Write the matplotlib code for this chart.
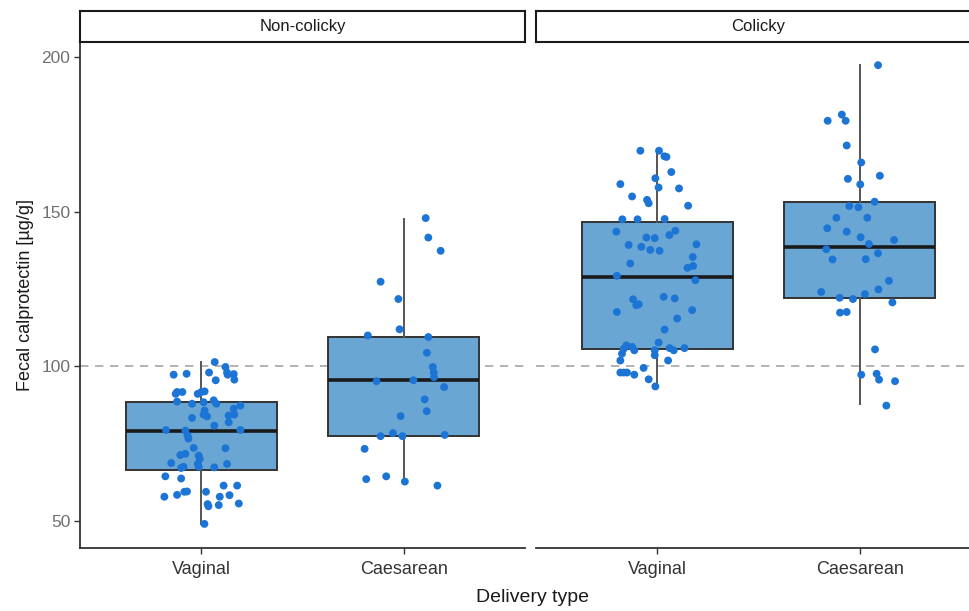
import matplotlib
matplotlib.use("Agg")
import matplotlib.pyplot as plt
import numpy as np

plt.rcParams['font.family'] = ['Liberation Sans', 'DejaVu Sans']

# ---------------- data ----------------
panels = ["Non-colicky", "Colicky"]
categories = ["Vaginal", "Caesarean"]
y_ticks = [50, 100, 150, 200]
reference_line = 100

# box statistics: (whisker low, Q1, median, Q3, whisker high)
box_noncolicky_vaginal = [49.0, 66.6, 79.2, 88.6, 101.4]
box_noncolicky_caesarean = [62.7, 77.6, 95.5, 109.5, 147.7]
box_colicky_vaginal = [93.0, 105.7, 129.0, 146.7, 170.1]
box_colicky_caesarean = [87.9, 122.0, 138.7, 153.1, 197.7]

nc_vag_values = [101.4, 99.8, 97.3, 97.6, 98.0, 98.0, 97.3, 97.5, 95.7, 95.5,
                 91.7, 91.7, 91.1, 91.1, 91.7, 91.9, 88.6, 87.9, 88.4, 89.0,
                 87.9, 87.3, 86.3, 85.7, 84.4, 83.8, 84.1, 84.4, 83.3, 81.9,
                 80.8, 79.4, 79.2, 77.6, 76.6, 79.4, 73.6, 73.5, 71.3, 71.7,
                 71.1, 70.0, 68.7, 68.4, 67.5, 67.5, 67.1, 68.4, 67.3, 64.4,
                 63.7, 61.4, 61.4, 59.5, 59.4, 59.4, 58.4, 57.8, 58.3, 57.8,
                 55.6, 55.4, 54.7, 55.1, 49.0]
nc_vag_jitter = [0.066, 0.119, -0.137, -0.073, 0.038, 0.127, 0.130, 0.160, 0.163, 0.071,
                 -0.120, -0.094, -0.127, -0.018, 0.000, 0.016, -0.120, -0.046, 0.011, 0.061,
                 0.074, 0.193, 0.160, 0.016, 0.011, 0.028, 0.135, 0.163, -0.046, 0.135,
                 0.064, -0.175, -0.079, -0.068, -0.064, 0.193, -0.038, 0.119, -0.104, -0.079,
                 -0.013, -0.008, -0.149, -0.018, -0.013, -0.088, -0.100, 0.127, 0.064, -0.178,
                 -0.100, 0.110, 0.177, -0.071, -0.084, 0.023, -0.120, -0.183, 0.139, 0.091,
                 0.185, 0.031, 0.035, 0.086, 0.015]

nc_cae_values = [148.0, 141.7, 137.4, 127.4, 121.8, 112.0, 110.0, 109.5, 104.4, 99.8,
                 98.0, 96.5, 95.2, 95.5, 93.3, 89.3, 85.5, 83.9, 77.4, 78.4,
                 77.4, 77.8, 73.3, 63.5, 64.4, 62.7, 61.4]
nc_cae_jitter = [0.109, 0.122, 0.183, -0.114, -0.026, -0.020, -0.177, 0.122, 0.115, 0.144,
                 0.149, 0.150, -0.134, 0.048, 0.200, 0.104, 0.114, -0.015, -0.114, -0.053,
                 -0.006, 0.203, -0.193, -0.185, -0.086, 0.006, 0.167]

c_vag_values = [169.8, 169.8, 168.0, 167.8, 162.9, 159.0, 160.9, 157.9, 157.6, 155.0,
                153.9, 152.8, 152.0, 147.6, 147.6, 147.7, 143.6, 143.9, 142.5, 141.7,
                141.5, 139.3, 138.7, 137.7, 137.4, 139.5, 135.4, 133.3, 131.9, 132.5,
                129.3, 127.9, 122.5, 122.0, 121.7, 119.8, 120.1, 117.6, 118.2, 115.5,
                111.9, 107.7, 106.8, 105.7, 106.3, 105.2, 105.2, 103.6, 105.9, 105.2,
                105.9, 104.1, 101.9, 101.9, 99.5, 98.0, 98.0, 98.0, 97.3, 95.8, 93.5]
c_vag_jitter = [-0.084, 0.008, 0.035, 0.045, 0.069, -0.183, -0.010, 0.006, 0.107, -0.125,
                -0.051, -0.043, 0.152, -0.173, -0.098, 0.036, -0.203, 0.089, 0.059, -0.054,
                -0.013, -0.142, -0.079, -0.035, 0.011, 0.193, 0.175, -0.134, 0.149, 0.177,
                -0.200, 0.188, 0.031, 0.086, -0.120, -0.104, -0.092, -0.200, 0.172, 0.098,
                0.036, 0.006, -0.153, -0.166, -0.125, -0.114, -0.013, -0.013, 0.061, 0.081,
                0.134, -0.175, -0.183, 0.053, -0.068, -0.183, -0.166, -0.150, -0.114, -0.043, -0.010]

c_cae_values = [197.5, 181.5, 179.5, 179.5, 171.5, 166.0, 160.7, 161.7, 158.9, 153.3,
                151.9, 151.5, 148.1, 148.1, 144.7, 143.6, 141.8, 140.9, 139.6, 137.9,
                136.6, 134.6, 134.7, 127.7, 124.9, 124.1, 123.4, 122.2, 121.8, 120.7,
                117.4, 117.6, 105.5, 97.3, 97.6, 95.7, 95.2, 87.3]
c_cae_jitter = [0.091, -0.088, -0.158, -0.069, -0.064, 0.008, -0.058, 0.100, 0.003, 0.074,
                -0.051, -0.006, -0.115, 0.038, -0.160, -0.064, 0.005, 0.170, 0.046, -0.165,
                0.091, -0.134, 0.030, 0.145, 0.093, -0.190, 0.026, -0.099, -0.033, 0.162,
                -0.097, -0.064, 0.076, 0.008, 0.084, 0.096, 0.175, 0.132]

panel_boxes = [[box_noncolicky_vaginal, box_noncolicky_caesarean],
               [box_colicky_vaginal, box_colicky_caesarean]]
panel_points = [[(nc_vag_values, nc_vag_jitter), (nc_cae_values, nc_cae_jitter)],
                [(c_vag_values, c_vag_jitter), (c_cae_values, c_cae_jitter)]]

# ---------------- style ----------------
W, H = 969, 611
box_fill = "#6aa6d3"
point_color = "#1c74d4"
edge = "#333333"

fig = plt.figure(figsize=(W / 100, H / 100), dpi=100)

panel_left_px = [80, 536]
panel_w_px = 445
top_px, bottom_px = 42, 548
strip_top_px = 11

for i, name in enumerate(panels):
    l = panel_left_px[i] / W
    ax = fig.add_axes([l, 1 - bottom_px / H, panel_w_px / W, (bottom_px - top_px) / H])
    ax.set_xlim(0.4, 2.6)
    ax.set_ylim(41.2, 205.0)
    for s in ["top", "right"]:
        ax.spines[s].set_visible(False)
    ax.spines["bottom"].set_color(edge)
    ax.spines["bottom"].set_linewidth(1.3)
    if i == 0:
        ax.spines["left"].set_color(edge)
        ax.spines["left"].set_linewidth(1.3)
        ax.set_yticks(y_ticks)
        ax.set_ylabel("Fecal calprotectin [µg/g]", fontsize=13, color="#1a1a1a", labelpad=5)
    else:
        ax.spines["left"].set_visible(False)
        ax.set_yticks([])
    ax.tick_params(axis="y", colors=edge, labelcolor="#707070", labelsize=12.5,
                   length=4, width=1.0, pad=3)
    ax.tick_params(axis="x", colors=edge, labelcolor="#333333", labelsize=13,
                   length=4, width=1.0, pad=5)
    ax.set_xticks([1, 2])
    ax.set_xticklabels(categories)

    ax.axhline(reference_line, color="#a6a6a6", lw=1.2, ls=(0, (5, 4)), zorder=1)

    stats = []
    for b in panel_boxes[i]:
        stats.append(dict(whislo=b[0], q1=b[1], med=b[2], q3=b[3], whishi=b[4], fliers=[]))
    ax.bxp(stats, positions=[1, 2], widths=0.75, patch_artist=True, showcaps=False,
           boxprops=dict(facecolor=box_fill, edgecolor=edge, linewidth=1.4),
           medianprops=dict(color="#1a1a1a", linewidth=2.6),
           whiskerprops=dict(color="#555555", linewidth=1.4),
           manage_ticks=False, zorder=2)

    for j, (vals, jit) in enumerate(panel_points[i]):
        x = (j + 1) + np.asarray(jit)
        ax.scatter(x, vals, s=32, color=point_color, edgecolors="none", zorder=3)

    # facet strip
    strip = fig.add_axes([l, 1 - top_px / H, panel_w_px / W, (top_px - strip_top_px) / H])
    strip.set_xticks([])
    strip.set_yticks([])
    for s in strip.spines.values():
        s.set_color("#1a1a1a")
        s.set_linewidth(1.5)
    strip.text(0.5, 0.5, name, ha="center", va="center", fontsize=12, color="#1a1a1a",
               transform=strip.transAxes)

fig.text(533 / W, 1 - 597 / H, "Delivery type", ha="center", va="center",
         fontsize=14, color="#1a1a1a")

fig.savefig("out.png", dpi=100)
